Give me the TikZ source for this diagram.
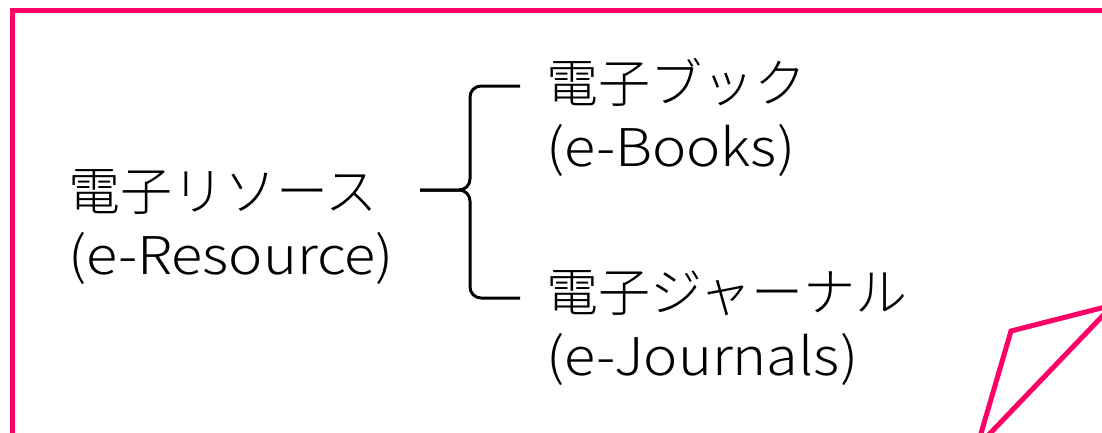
\documentclass[tikz,border=0pt]{standalone}
\usepackage{fontspec}
\setmainfont{Noto Sans CJK JP Light}
\newfontfamily\widelatin[FakeStretch=1.11]{Noto Sans CJK JP Light}
\usetikzlibrary{positioning}
\definecolor{framepink}{HTML}{FF0066}
\tikzset{
  term/.style={inner sep=0pt, align=left, anchor=north west, font=\fontsize{52}{64}\selectfont},
  brace/.style={black, line width=3pt, rounded corners=11pt},
  frame/.style={framepink, line width=5pt},
}

\begin{document}
\begin{tikzpicture}[x=1pt,y=-1pt]
    \useasboundingbox (0,0) rectangle (1102,432);
    \clip (0,0) rectangle (1102,432);

    % frame and folded corner
    \draw [frame] (12.5,450) -- (12.5,10.5) -- (1120,10.5);
    \draw [frame] [line join=miter] (1011,331) -- (1113,305) -- (977,447) -- cycle;

    \node [term] (res)   at (68,169)                                   {電子リソース\\{\widelatin (e-Resource)}};
    \node [term] (books) at (546,58)                                   {電子ブック\\{\widelatin (e-Books)}};
    \node [term] [below=94pt of books.south west, anchor=north west] (journals) {電子ジャーナル\\{\widelatin (e-Journals)}};

    \coordinate (tip) at (420,190);
    \coordinate (top) at (520,86);
    \coordinate (bot) at (520,298);

    \draw [brace] (tip) -- ++(50,0) |- (top);
    \draw [brace] (tip) -- ++(50,0) |- (bot);
\end{tikzpicture}
\end{document}
